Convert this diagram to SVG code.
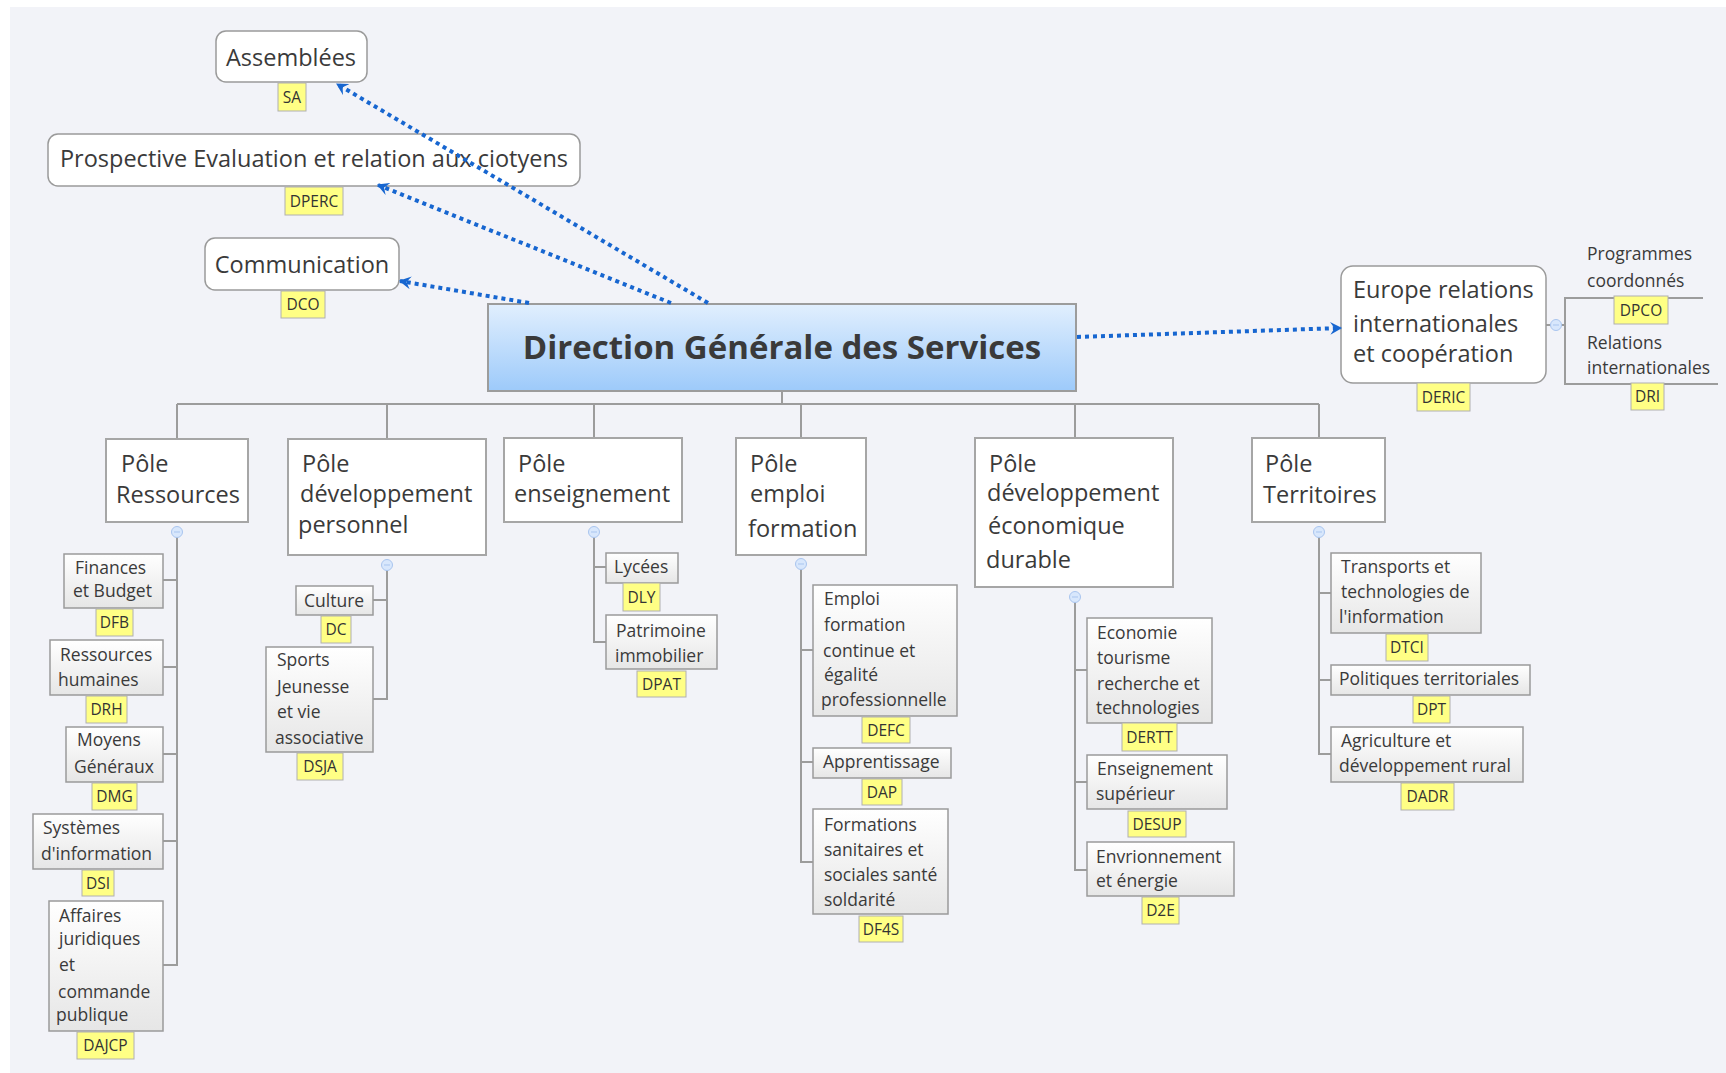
<svg xmlns="http://www.w3.org/2000/svg" width="1726" height="1073" viewBox="0 0 1726 1073">
<defs>
<linearGradient id="gBlue" x1="0" y1="0" x2="0" y2="1"><stop offset="0" stop-color="#e1effe"/><stop offset="1" stop-color="#9dcafa"/></linearGradient>
<linearGradient id="gChild" x1="0" y1="0" x2="0" y2="1"><stop offset="0" stop-color="#ffffff"/><stop offset="1" stop-color="#e6e6e6"/></linearGradient>
<marker id="arr" viewBox="0 0 12 12" refX="10" refY="6" markerWidth="13" markerHeight="13" markerUnits="userSpaceOnUse" orient="auto">
<path d="M0,0 L11,6 L0,12 L4,6 Z" fill="#1766d0"/>
</marker>
</defs>
<style>
text{font-family:"Open Sans","Noto Sans","Liberation Sans",sans-serif;fill:#3a3a3a}
.top{fill:#ffffff;stroke:#9a9a9a;stroke-width:1.5}
.pole{fill:#ffffff;stroke:#a6a6a6;stroke-width:2}
.child{fill:url(#gChild);stroke:#9a9a9a;stroke-width:1.5}
.lab{fill:#ffff85;stroke:#b0b0b0;stroke-width:1}
.labt{font-size:15.5px;text-anchor:middle;fill:#333}
.t24{font-size:23.5px}
.t23{font-size:23.5px}
.t17{font-size:17.5px}
.conn{fill:none;stroke:#9c9c9c;stroke-width:2}
.dot{fill:none;stroke:#1766d0;stroke-width:4;stroke-dasharray:4 4;marker-end:url(#arr)}
.col{fill:#d8e7fc;stroke:#a9c5ef;stroke-width:1}
.colm{stroke:#a9c5ef;stroke-width:1}
</style>
<rect x="0" y="0" width="1726" height="1073" fill="#ffffff"/>
<rect x="10" y="7" width="1716" height="1066" fill="#f2f3f8"/>

<g id="connectors">
<path class="conn" d="M782,391 V404 M177,404 H1319 M177,404 V438 M387,404 V438 M594,404 V438 M801,404 V438 M1075,404 V438 M1319,404 V438"/>
<path class="conn" d="M177,537 V965 H163 M163,580 H177 M163,667 H177 M163,754 H177 M163,841 H177"/>
<path class="conn" d="M387,570 V699 H373 M373,600 H387"/>
<path class="conn" d="M594,537 V642 H606 M594,567 H606"/>
<path class="conn" d="M801,569 V862 H813 M801,650 H813 M801,762 H813"/>
<path class="conn" d="M1075,602 V870 H1087 M1075,670 H1087 M1075,782 H1087"/>
<path class="conn" d="M1319,537 V754 H1331 M1319,593 H1331 M1319,680 H1331"/>
<path class="conn" d="M1546,325 H1565 M1703,298 H1565 V384 H1718" stroke="#aaaaaa"/>
<g>
<circle class="col" cx="177" cy="532" r="5.5"/><path class="colm" d="M174,532 H180"/>
<circle class="col" cx="387" cy="565" r="5.5"/><path class="colm" d="M384,565 H390"/>
<circle class="col" cx="594" cy="532" r="5.5"/><path class="colm" d="M591,532 H597"/>
<circle class="col" cx="801" cy="564" r="5.5"/><path class="colm" d="M798,564 H804"/>
<circle class="col" cx="1075" cy="597" r="5.5"/><path class="colm" d="M1072,597 H1078"/>
<circle class="col" cx="1319" cy="532" r="5.5"/><path class="colm" d="M1316,532 H1322"/>
<circle class="col" cx="1556" cy="325" r="5.5"/><path class="colm" d="M1553,325 H1559"/>
</g>
</g>

<g id="central">
<rect x="488" y="304" width="588" height="87" fill="url(#gBlue)" stroke="#9c9c9c" stroke-width="2"/>
<text x="782" y="359" text-anchor="middle" font-size="33" font-weight="bold" fill="#4a4a4a">Direction Générale des Services</text>
</g>

<g id="assemblees">
<rect class="top" x="216" y="31" width="151" height="51" rx="10"/>
<text class="t24" x="291" y="66" text-anchor="middle">Assemblées</text>
<rect class="lab" x="278" y="83" width="28" height="28"/><text class="labt" x="292" y="103">SA</text>
</g>
<g id="prospective">
<rect class="top" x="48" y="134" width="532" height="52" rx="10"/>
<text class="t24" x="314" y="167" text-anchor="middle">Prospective Evaluation et relation aux ciotyens</text>
<rect class="lab" x="285" y="187" width="58" height="28"/><text class="labt" x="314" y="207">DPERC</text>
</g>
<g id="communication">
<rect class="top" x="205" y="238" width="194" height="52" rx="10"/>
<text class="t24" x="302" y="273" text-anchor="middle">Communication</text>
<rect class="lab" x="281" y="291" width="44" height="27"/><text class="labt" x="303" y="310">DCO</text>
</g>

<g id="europe">
<rect class="top" x="1341" y="266" width="205" height="117" rx="12"/>
<text class="t23"><tspan x="1353" y="298">Europe relations</tspan><tspan x="1353" y="332">internationales</tspan><tspan x="1353" y="362">et coopération</tspan></text>
<rect class="lab" x="1417" y="383" width="53" height="28"/><text class="labt" x="1443.5" y="403">DERIC</text>
</g>
<g id="dpco">
<text class="t17"><tspan x="1587" y="260">Programmes</tspan><tspan x="1587" y="287">coordonnés</tspan></text>
<rect class="lab" x="1614" y="296" width="54" height="28"/><text class="labt" x="1641" y="316">DPCO</text>
</g>
<g id="dri">
<text class="t17"><tspan x="1587" y="349">Relations</tspan><tspan x="1587" y="374">internationales</tspan></text>
<rect class="lab" x="1631" y="383" width="33" height="27"/><text class="labt" x="1647.5" y="402">DRI</text>
</g>

<g id="pole-ressources">
<rect class="pole" x="106" y="439" width="142" height="83"/>
<text class="t23"><tspan x="121" y="472">Pôle</tspan><tspan x="116" y="503">Ressources</tspan></text>
</g>
<g id="pole-dev-perso">
<rect class="pole" x="288" y="439" width="198" height="116"/>
<text class="t23"><tspan x="302" y="472">Pôle</tspan><tspan x="300" y="502">développement</tspan><tspan x="298" y="533">personnel</tspan></text>
</g>
<g id="pole-enseignement">
<rect class="pole" x="504" y="438" width="178" height="84"/>
<text class="t23"><tspan x="518" y="472">Pôle</tspan><tspan x="514" y="502">enseignement</tspan></text>
</g>
<g id="pole-emploi">
<rect class="pole" x="736" y="438" width="130" height="117"/>
<text class="t23"><tspan x="750" y="472">Pôle</tspan><tspan x="750" y="502">emploi</tspan><tspan x="748" y="537">formation</tspan></text>
</g>
<g id="pole-eco">
<rect class="pole" x="975" y="438" width="198" height="149"/>
<text class="t23"><tspan x="989" y="472">Pôle</tspan><tspan x="987" y="501">développement</tspan><tspan x="988" y="534">économique</tspan><tspan x="986" y="568">durable</tspan></text>
</g>
<g id="pole-territoires">
<rect class="pole" x="1252" y="438" width="133" height="84"/>
<text class="t23"><tspan x="1265" y="472">Pôle</tspan><tspan x="1263" y="503">Territoires</tspan></text>
</g>

<g id="dfb">
<rect class="child" x="64" y="554" width="99" height="54"/>
<text class="t17"><tspan x="75" y="574">Finances</tspan><tspan x="73" y="597">et Budget</tspan></text>
<rect class="lab" x="96" y="609" width="37" height="27"/><text class="labt" x="114.5" y="628">DFB</text>
</g>
<g id="drh">
<rect class="child" x="50" y="640" width="113" height="55"/>
<text class="t17"><tspan x="60" y="661">Ressources</tspan><tspan x="58" y="686">humaines</tspan></text>
<rect class="lab" x="86" y="696" width="41" height="27"/><text class="labt" x="106.5" y="715">DRH</text>
</g>
<g id="dmg">
<rect class="child" x="66" y="727" width="97" height="55"/>
<text class="t17"><tspan x="77" y="746">Moyens</tspan><tspan x="74" y="773">Généraux</tspan></text>
<rect class="lab" x="92" y="783" width="45" height="27"/><text class="labt" x="114.5" y="802">DMG</text>
</g>
<g id="dsi">
<rect class="child" x="33" y="814" width="130" height="55"/>
<text class="t17"><tspan x="43" y="834">Systèmes</tspan><tspan x="41" y="860">d'information</tspan></text>
<rect class="lab" x="82" y="870" width="32" height="26"/><text class="labt" x="98" y="889">DSI</text>
</g>
<g id="dajcp">
<rect class="child" x="49" y="901" width="114" height="130"/>
<text class="t17"><tspan x="59" y="922">Affaires</tspan><tspan x="59" y="945">juridiques</tspan><tspan x="59" y="971">et</tspan><tspan x="58" y="998">commande</tspan><tspan x="56" y="1021">publique</tspan></text>
<rect class="lab" x="77" y="1032" width="57" height="27"/><text class="labt" x="105.5" y="1051">DAJCP</text>
</g>

<g id="dc">
<rect class="child" x="296" y="586" width="77" height="29"/>
<text class="t17" x="304" y="607">Culture</text>
<rect class="lab" x="321" y="616" width="30" height="27"/><text class="labt" x="336" y="635">DC</text>
</g>
<g id="dsja">
<rect class="child" x="266" y="647" width="107" height="105"/>
<text class="t17"><tspan x="277" y="666">Sports</tspan><tspan x="277" y="693">Jeunesse</tspan><tspan x="277" y="718">et vie</tspan><tspan x="275" y="744">associative</tspan></text>
<rect class="lab" x="297" y="753" width="46" height="27"/><text class="labt" x="320" y="772">DSJA</text>
</g>

<g id="dly">
<rect class="child" x="606" y="553" width="72" height="30"/>
<text class="t17" x="614" y="573">Lycées</text>
<rect class="lab" x="623" y="583" width="37" height="28"/><text class="labt" x="641.5" y="603">DLY</text>
</g>
<g id="dpat">
<rect class="child" x="606" y="615" width="111" height="54"/>
<text class="t17"><tspan x="616" y="637">Patrimoine</tspan><tspan x="615" y="662">immobilier</tspan></text>
<rect class="lab" x="637" y="671" width="49" height="26"/><text class="labt" x="661.5" y="690">DPAT</text>
</g>

<g id="defc">
<rect class="child" x="813" y="585" width="144" height="131"/>
<text class="t17"><tspan x="824" y="605">Emploi</tspan><tspan x="824" y="631">formation</tspan><tspan x="823" y="657">continue et</tspan><tspan x="824" y="681">égalité</tspan><tspan x="821" y="706">professionnelle</tspan></text>
<rect class="lab" x="862" y="717" width="48" height="26"/><text class="labt" x="886" y="736">DEFC</text>
</g>
<g id="dap">
<rect class="child" x="813" y="748" width="138" height="30"/>
<text class="t17" x="823" y="768">Apprentissage</text>
<rect class="lab" x="862" y="779" width="40" height="26"/><text class="labt" x="882" y="798">DAP</text>
</g>
<g id="df4s">
<rect class="child" x="813" y="809" width="135" height="105"/>
<text class="t17"><tspan x="824" y="831">Formations</tspan><tspan x="824" y="856">sanitaires et</tspan><tspan x="824" y="881">sociales santé</tspan><tspan x="824" y="906">soldarité</tspan></text>
<rect class="lab" x="859" y="916" width="44" height="26"/><text class="labt" x="881" y="935">DF4S</text>
</g>

<g id="dertt">
<rect class="child" x="1087" y="618" width="125" height="105"/>
<text class="t17"><tspan x="1097" y="639">Economie</tspan><tspan x="1097" y="664">tourisme</tspan><tspan x="1097" y="690">recherche et</tspan><tspan x="1096" y="714">technologies</tspan></text>
<rect class="lab" x="1122" y="723" width="55" height="28"/><text class="labt" x="1149.5" y="743">DERTT</text>
</g>
<g id="desup">
<rect class="child" x="1087" y="755" width="140" height="54"/>
<text class="t17"><tspan x="1097" y="775">Enseignement</tspan><tspan x="1096" y="800">supérieur</tspan></text>
<rect class="lab" x="1128" y="811" width="58" height="26"/><text class="labt" x="1157" y="830">DESUP</text>
</g>
<g id="d2e">
<rect class="child" x="1087" y="842" width="147" height="54"/>
<text class="t17"><tspan x="1096" y="863">Envrionnement</tspan><tspan x="1096" y="887">et énergie</tspan></text>
<rect class="lab" x="1142" y="897" width="37" height="27"/><text class="labt" x="1160.5" y="916">D2E</text>
</g>

<g id="dtci">
<rect class="child" x="1331" y="553" width="150" height="80"/>
<text class="t17"><tspan x="1341" y="573">Transports et</tspan><tspan x="1341" y="598">technologies de</tspan><tspan x="1339" y="623">l'information</tspan></text>
<rect class="lab" x="1386" y="634" width="42" height="27"/><text class="labt" x="1407" y="653">DTCI</text>
</g>
<g id="dpt">
<rect class="child" x="1331" y="665" width="199" height="30"/>
<text class="t17" x="1339" y="685">Politiques territoriales</text>
<rect class="lab" x="1413" y="696" width="37" height="27"/><text class="labt" x="1431.5" y="715">DPT</text>
</g>
<g id="dadr">
<rect class="child" x="1331" y="727" width="192" height="55"/>
<text class="t17"><tspan x="1341" y="747">Agriculture et</tspan><tspan x="1339" y="772">développement rural</tspan></text>
<rect class="lab" x="1401" y="783" width="53" height="27"/><text class="labt" x="1427.5" y="802">DADR</text>
</g>

<g id="relations">
<path class="dot" d="M708,303 L337,84"/>
<path class="dot" d="M671,303 L378,185"/>
<path class="dot" d="M529,303 L400,281"/>
<path class="dot" d="M1077,337 L1341,328"/>
</g>
</svg>
